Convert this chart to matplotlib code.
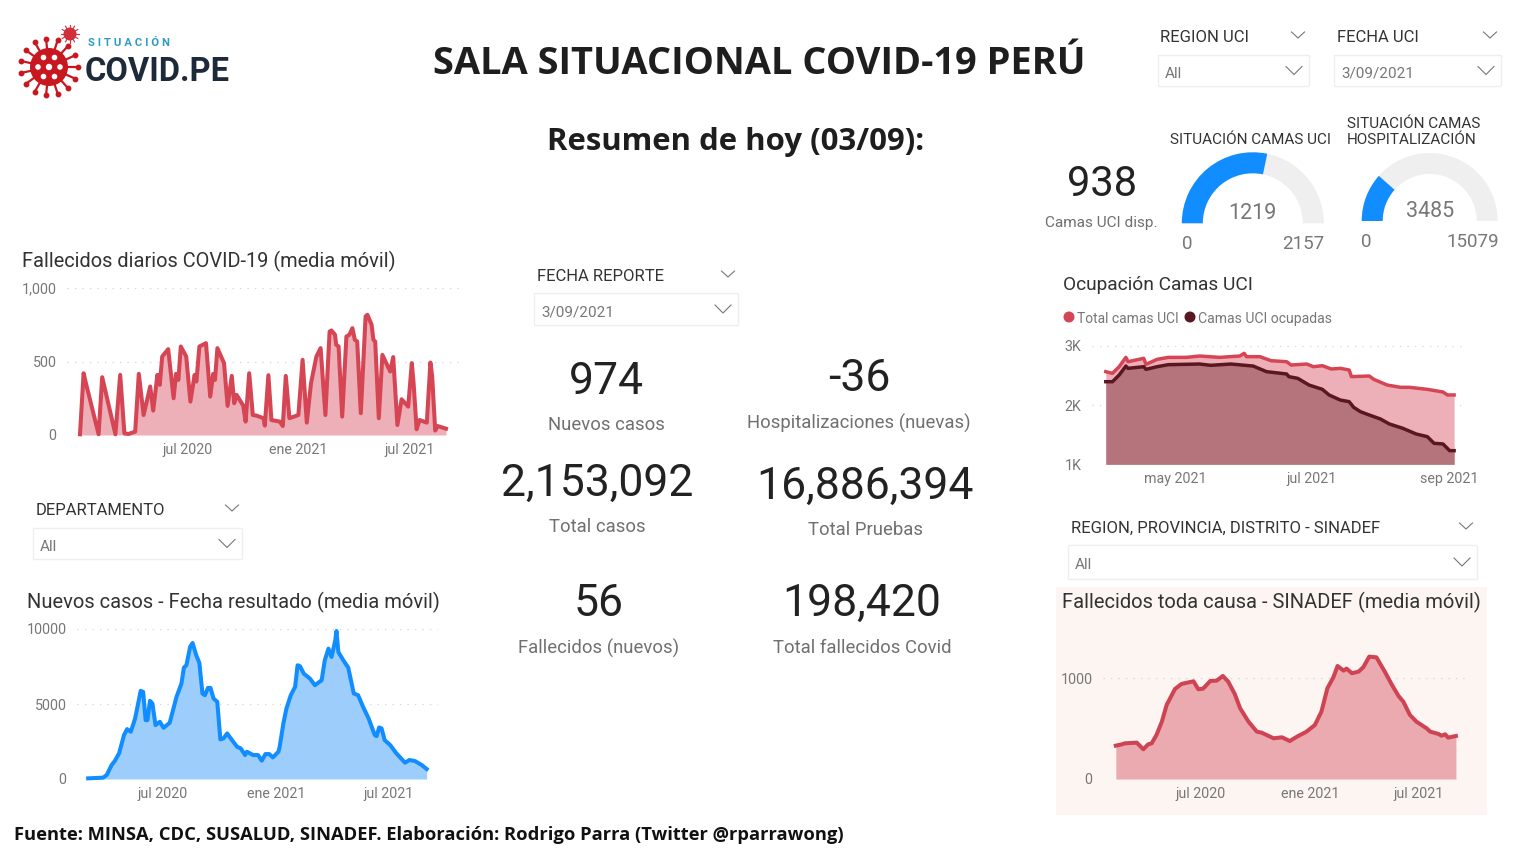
import numpy as np
import pandas as pd
import matplotlib
matplotlib.use("Agg")
import matplotlib.pyplot as plt
from matplotlib.patches import Wedge, Circle, Rectangle

# days counted from 2020-07-01
fall_days = [-180, -174, -170, -149, -143, -121, -113, -106, -99, -88, -82, -74, -63, -58, -51, -47, -43, -33, -24, -20,
             -16, -12, -3, 4, 11, 14, 19, 30, 37, 42, 45, 49, 60, 66, 73, 77, 81, 92, 96, 102,
             108, 114, 126, 128, 134, 139, 153, 158, 163, 169, 184, 191, 198, 205, 214, 221, 229, 236, 239, 245,
             247, 251, 257, 264, 269, 274, 278, 282, 288, 296, 299, 306, 309, 312, 318, 324, 337, 342, 349, 356,
             367, 373, 376, 381, 386, 398, 404, 407, 412, 416, 430]
fall_vals = [5, 420, 350, 5, 393, 5, 409, 11, 7, 23, 416, 136, 330, 166, 409, 341, 534, 584, 250, 416,
             375, 602, 534, 227, 409, 364, 602, 625, 261, 416, 375, 591, 489, 198, 402, 216, 273, 200, 91, 420,
             136, 132, 114, 64, 407, 102, 91, 61, 402, 114, 136, 511, 84, 352, 534, 591, 136, 704, 711, 682,
             614, 602, 125, 670, 682, 727, 648, 636, 148, 807, 818, 750, 648, 636, 114, 545, 432, 530, 68, 243,
             193, 489, 352, 39, 102, 84, 493, 398, 30, 61, 43]

casos_days = [-120, -96, -90, -82, -77, -70, -62, -57, -51, -44, -35, -31, -27, -24, -20, -16, -11, -4, 2, 12,
              23, 31, 35, 39, 45, 49, 55, 60, 65, 69, 74, 78, 83, 89, 94, 99, 105, 112, 121, 127,
              134, 137, 147, 155, 161, 167, 173, 179, 188, 190, 196, 201, 208, 215, 219, 223, 229, 239, 247, 258,
              263, 269, 274, 280, 282, 285, 293, 301, 310, 317, 325, 334, 344, 347, 351, 355, 360, 369, 379, 393,
              400, 409, 420, 428]
casos_vals = [44, 89, 266, 931, 1197, 1707, 2926, 3326, 3148, 4035, 5875, 5809, 3924, 3924, 5210, 5033, 3592, 3813, 3414, 3747,
              5476, 6363, 7427, 7582, 8802, 9067, 8247, 7737, 5698, 5587, 6075, 6075, 5365, 5143, 2638, 2705, 3037, 2638, 2150, 2040,
              1596, 1818, 1596, 1596, 1219, 1663, 1663, 1441, 1818, 2150, 3702, 4700, 5587, 6141, 7582, 7516, 7028, 6695, 6252, 6584,
              7915, 8690, 8136, 9245, 9866, 8469, 7915, 7427, 5698, 5587, 4811, 4035, 2926, 2860, 3436, 3370, 2594, 2261, 1707, 1086,
              1264, 1197, 931, 665]

sinadef_days = [-142, -132, -127, -107, -96, -88, -82, -74, -65, -57, -43, -32, -12, -4, 4, 16, 27, 37, 46, 57,
                66, 80, 94, 102, 122, 136, 149, 161, 177, 191, 202, 212, 222, 229, 239, 244, 253, 264, 272, 282,
                294, 308, 320, 331, 339, 350, 361, 378, 384, 398, 403, 409, 414, 427]
sinadef_vals = [331, 344, 354, 361, 295, 344, 354, 437, 569, 735, 894, 944, 970, 891, 897, 973, 977, 1023, 967, 844,
                702, 569, 470, 460, 404, 414, 377, 420, 470, 536, 669, 901, 1010, 1122, 1076, 1096, 1050, 1066, 1109, 1215,
                1208, 1066, 934, 824, 768, 636, 569, 503, 470, 447, 430, 444, 411, 427]

# days counted from 2021-05-01
uci_total_days = [-31, -28, -25, -22, -21, -14, -13, -8, -3, 5, 11, 20, 29, 31, 32, 38, 43, 50, 52, 59,
                  62, 66, 70, 74, 78, 79, 87, 89, 95, 101, 105, 113, 120, 122, 125]
uci_total_vals = [2562, 2534, 2646, 2803, 2730, 2787, 2685, 2770, 2803, 2803, 2826, 2803, 2826, 2871, 2815, 2815, 2747, 2730, 2674, 2691,
                  2646, 2663, 2607, 2618, 2590, 2478, 2489, 2433, 2337, 2298, 2298, 2264, 2219, 2169, 2169]
uci_ocup_days = [-31, -28, -25, -22, -21, -14, -13, -8, -3, 11, 16, 25, 35, 41, 50, 51, 55, 60, 66, 69,
                 74, 78, 80, 83, 87, 92, 96, 102, 108, 113, 116, 120, 123, 125]
uci_ocup_vals = [2393, 2393, 2506, 2657, 2618, 2646, 2601, 2646, 2680, 2691, 2669, 2691, 2657, 2562, 2523, 2478, 2449, 2337, 2264, 2169,
                 2084, 2056, 1961, 1888, 1831, 1764, 1680, 1607, 1511, 1466, 1354, 1343, 1230, 1230]

gauge_uci = [1219, 2157]
gauge_hosp = [3485, 15079]

W, H = 1519, 852
RED = "#D64554"
RED_FILL = "#EEB0B8"
DARK = "#5A1720"
BLUE = "#118DFF"
BLUE_FILL = "#9DCEFB"
GRAY = "#777777"
TXT = "#252423"
FONT = "Roboto"
HEAD = "Open Sans"
plt.rcParams["font.family"] = [FONT, "DejaVu Sans"]

fig = plt.figure(figsize=(W / 100, H / 100), dpi=100, facecolor="white")

# overlay in pixel coordinates for the cards, slicers and gauges
bg = fig.add_axes([0, 0, 1, 1], zorder=0)
bg.set_xlim(0, W)
bg.set_ylim(H, 0)
bg.axis("off")


def txt(x, y, s, size, color=TXT, weight="normal", ha="left", family=None, **kw):
    # va center sits a little high for this font, nudge down with size
    return bg.text(x, y + 1.4 + 0.055 * size, s, fontsize=size, color=color, fontweight=weight, ha=ha, va="center",
                   family=family if family else [FONT, "DejaVu Sans"], **kw)


def chevron(x, y, w=13, h=6, color="#777777"):
    bg.plot([x - w / 2, x, x + w / 2], [y - h / 2, y + h / 2, y - h / 2], color=color, lw=0.8)


def slicer(title, value, tx, ty, tchev, bx0, by0, bx1, by1):
    txt(tx, ty, title, 12, color="#333333")
    chevron(tchev, ty)
    bg.add_patch(Rectangle((bx0, by0), bx1 - bx0, by1 - by0, fc="white", ec="#EFEFEF", lw=1))
    txt(bx0 + 7, (by0 + by1) / 2 + 1, value, 11, color=GRAY)
    chevron(bx1 - 15, (by0 + by1) / 2, w=16, h=8)


def kpi(x, y, value, label, ylabel, size=32):
    txt(x, y, value, size, ha="center", color="#222222")
    txt(x, ylabel, label, 13.3, ha="center", color="#707070")


def chart_axes(x0, x1, y_top, y_bot, a, b, ylim, yticks, ylabels, xticks, xlabels):
    # a, b: pixel of day 0 and pixels per day
    ax = fig.add_axes([x0 / W, 1 - y_bot / H, (x1 - x0) / W, (y_bot - y_top) / H], zorder=2)
    ax.patch.set_alpha(0)
    ax.set_xlim((x0 - a) / b, (x1 - a) / b)
    ax.set_ylim(*ylim)
    for s in ax.spines.values():
        s.set_visible(False)
    ax.set_yticks(yticks, ylabels)
    ax.set_xticks(xticks, xlabels)
    ax.tick_params(length=0, labelsize=10.3, labelcolor=GRAY)
    ax.tick_params(axis="x", pad=5.5)
    ax.tick_params(axis="y", pad=7.5)
    ax.yaxis.grid(True, color="#D5D5D5", lw=0.9, linestyle=(0, (1, 5)))
    ax.set_axisbelow(True)
    return ax


def area(ax, d, v, base, line, fill, lw=2.9, z=3):
    ax.fill_between(d, v, base, color=fill, lw=0, zorder=z)
    ax.plot(d, v, color=line, lw=lw, solid_joinstyle="round", zorder=z + 1, clip_on=False)


# logo
cx, cy = 49, 67
bg.add_patch(Circle((cx, cy), 19, fc="#C8171E", ec="none"))
for ang in np.arange(0, 360, 24):
    t = np.deg2rad(ang)
    bg.plot([cx + 18 * np.cos(t), cx + 28 * np.cos(t)], [cy + 18 * np.sin(t), cy + 28 * np.sin(t)], color="#C8171E", lw=1.6)
    bg.plot(cx + 28.5 * np.cos(t), cy + 28.5 * np.sin(t), "o", color="#C8171E", ms=3.2)
for ang in np.arange(0, 360, 60):
    t = np.deg2rad(ang)
    bg.add_patch(Circle((cx + 11 * np.cos(t), cy + 11 * np.sin(t)), 2.8, fc="white", ec="none"))
bg.add_patch(Circle((cx, cy), 3.2, fc="white", ec="none"))
bg.add_patch(Circle((70, 34), 6.5, fc="#D0303A", ec="none"))
for ang in np.arange(0, 360, 30):
    t = np.deg2rad(ang)
    bg.plot([70 + 6 * np.cos(t), 70 + 9 * np.cos(t)], [34 + 6 * np.sin(t), 34 + 9 * np.sin(t)], color="#D0303A", lw=0.8)
txt(88, 41, "S I T U A C I Ó N", 8.2, color="#2E9CC4", weight="bold")
txt(85, 69, "COVID.PE", 23.5, color="#1D2A3A", weight="bold")

# titles
txt(759, 61, "SALA SITUACIONAL COVID-19 PERÚ", 27.4, weight="bold", ha="center", color="#1E1E1E", family=[HEAD, "DejaVu Sans"])
txt(736, 139, "Resumen de hoy (03/09):", 22.4, weight="bold", ha="center", color="#1E1E1E", family=[HEAD, "DejaVu Sans"])
txt(14, 833, "Fuente: MINSA, CDC, SUSALUD, SINADEF. Elaboración: Rodrigo Parra (Twitter @rparrawong)",
    13.25, weight="bold", color="#111111", family=[HEAD, "DejaVu Sans"])

# slicers
slicer("REGION UCI", "All", 1160, 35, 1298, 1158, 55, 1309, 86)
slicer("FECHA UCI", "3/09/2021", 1337, 35, 1490, 1334, 55, 1501, 86)
slicer("FECHA REPORTE", "3/09/2021", 537, 274, 728, 534, 293, 738, 325)
slicer("DEPARTAMENTO", "All", 36, 508, 232, 33, 528, 242, 559)
slicer("REGION, PROVINCIA, DISTRITO - SINADEF", "All", 1071, 526, 1466, 1068, 545, 1477, 579)

# KPI cards
kpi(606, 379, "974", "Nuevos casos", 423)
kpi(859, 376, "-36", "Hospitalizaciones (nuevas)", 421)
kpi(597, 481, "2,153,092", "Total casos", 525)
kpi(865, 484, "16,886,394", "Total Pruebas", 528)
kpi(599, 601, "56", "Fallecidos (nuevos)", 646)
kpi(862, 601, "198,420", "Total fallecidos Covid", 646)
txt(1102, 181, "938", 30, ha="center", color="#222222")
txt(1101, 221, "Camas UCI disp.", 11.1, ha="center", color="#707070")

# gauges
for (val, maxv), gx, gy, R, r, title, ty in [
        (gauge_uci, 1252.8, 223.3, 71, 50, "SITUACIÓN CAMAS UCI", 138),
        (gauge_hosp, 1429.7, 221, 68, 47, "SITUACIÓN CAMAS\nHOSPITALIZACIÓN", 130)]:
    bg.add_patch(Wedge((gx, gy), R, 180, 360, width=R - r, fc="#EFEFEF", ec="none"))
    bg.add_patch(Wedge((gx, gy), R, 180, 180 + 180 * val / maxv, width=R - r, fc=BLUE, ec="none"))
    txt(gx, gy - 12, str(val), 15.5, color=GRAY, ha="center")
    txt(gx - R + 5, gy + 19, "0", 13.5, color=GRAY, ha="center")
    txt(gx + R + 1, gy + 19, str(maxv), 13.5, color=GRAY, ha="right")
    if "\n" in title:
        txt(1347, ty, title, 11, color="#333333", linespacing=1.12)
    else:
        txt(gx - 2, ty, title, 11, color="#333333", ha="center")

# sinadef panel background
bg.add_patch(Rectangle((1056, 587), 431, 228, fc="#FDF5F2", ec="none"))

# chart titles
txt(22, 259, "Fallecidos diarios COVID-19 (media móvil)", 14.4, color="#333333")
txt(27, 600, "Nuevos casos - Fecha resultado (media móvil)", 14.5, color="#333333")
txt(1063, 283, "Ocupación Camas UCI", 13.8, color="#333333")
txt(1062, 600, "Fallecidos toda causa - SINADEF (media móvil)", 14.5, color="#333333")

# daily deaths
ax1 = chart_axes(67, 462, 288, 435, 188, 0.6, (0, 1000), [0, 500, 1000], ["0", "500", "1,000"],
                 [0, 184, 369], ["jul 2020", "ene 2021", "jul 2021"])
area(ax1, fall_days, fall_vals, 0, RED, RED_FILL)

# new cases
ax2 = chart_axes(77, 438, 629, 779, 162.3, 0.6177, (0, 10000), [0, 5000, 10000], ["0", "5000", "10000"],
                 [0, 184, 367], ["jul 2020", "ene 2021", "jul 2021"])
area(ax2, casos_days, casos_vals, 0, BLUE, BLUE_FILL)

# ICU occupancy
ax3 = chart_axes(1092, 1462, 345.7, 464.3, 1175, 2.233, (1000, 3000), [1000, 2000, 3000], ["1K", "2K", "3K"],
                 [0, 61, 123], ["may 2021", "jul 2021", "sep 2021"])
ax3.fill_between(uci_total_days, uci_total_vals, 1000, color=RED_FILL, lw=0, zorder=3)
ax3.fill_between(uci_ocup_days, uci_ocup_vals, 1000, color="#B5737B", lw=0, zorder=4)
ax3.plot(uci_total_days, uci_total_vals, color=RED, lw=2.5, zorder=5, clip_on=False)
ax3.plot(uci_ocup_days, uci_ocup_vals, color=DARK, lw=2.5, zorder=6, clip_on=False)
bg.add_patch(Circle((1069, 317), 5.5, fc=RED, ec="none"))
bg.add_patch(Circle((1190, 317), 5.5, fc=DARK, ec="none"))
txt(1077, 317, "Total camas UCI", 10, color=GRAY)
txt(1198, 317, "Camas UCI ocupadas", 10.1, color=GRAY)

# all-cause deaths
ax4 = chart_axes(1103, 1465, 640, 779, 1200.7, 0.5977, (0, 1380), [0, 1000], ["0", "1000"],
                 [0, 184, 365], ["jul 2020", "ene 2021", "jul 2021"])
area(ax4, sinadef_days, sinadef_vals, 0, "#CF4453", "#EBA9B0")

fig.savefig("out.png", dpi=100)
